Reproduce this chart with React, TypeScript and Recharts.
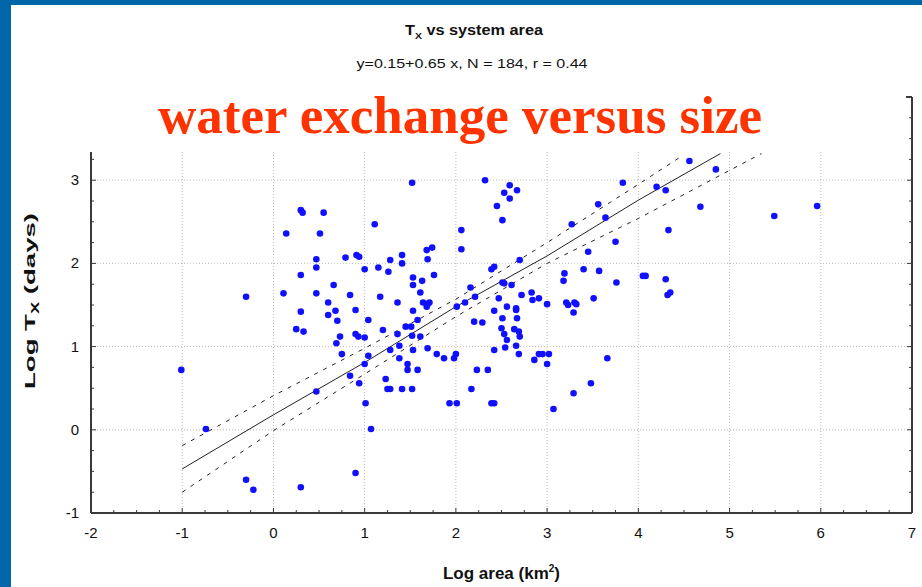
import { ScatterChart, Scatter, XAxis, YAxis, ReferenceLine } from 'recharts'

// log area (km2), log Tx (days) for each system
const systems: [number, number][] = [
  [-1.01, 0.72], [-0.74, 0.01], [-0.3, -0.6], [-0.22, -0.72], [-0.3, 1.6], [0.3, -0.69],
  [0.3, 2.64], [0.32, 2.61], [0.55, 2.61], [0.14, 2.36], [0.51, 2.36], [0.47, 2.05],
  [0.47, 1.95], [0.3, 1.86], [0.79, 2.07], [0.91, 2.1], [0.94, 2.08], [0.66, 1.74],
  [0.11, 1.64], [0.47, 1.64], [0.84, 1.62], [0.6, 1.53], [0.3, 1.42], [0.6, 1.38],
  [0.68, 1.43], [0.7, 1.31], [0.9, 1.44], [0.25, 1.21], [0.33, 1.18], [0.73, 1.12],
  [0.69, 1.04], [0.9, 1.15], [0.93, 1.12], [0.75, 0.91], [0.84, 0.65], [0.94, 0.56],
  [0.47, 0.46], [0.9, -0.52], [1.52, 2.97], [2.32, 3.0], [2.59, 2.94], [2.53, 2.85],
  [2.67, 2.88], [2.59, 2.78], [2.45, 2.69], [2.51, 2.52], [1.11, 2.47], [2.06, 2.4],
  [2.06, 2.17], [1.0, 1.93], [1.15, 1.95], [1.28, 2.04], [1.41, 2.1], [1.41, 2.0],
  [1.26, 1.9], [1.68, 2.16], [1.74, 2.19], [1.69, 2.05], [1.53, 1.83], [1.53, 1.74],
  [1.63, 1.79], [1.76, 1.86], [1.61, 1.65], [1.17, 1.6], [1.36, 1.53], [1.64, 1.53],
  [1.69, 1.51], [1.68, 1.48], [1.71, 1.53], [1.53, 1.43], [1.58, 1.32], [1.04, 1.32],
  [1.45, 1.24], [1.51, 1.24], [1.2, 1.2], [2.16, 1.71], [2.39, 1.93], [2.42, 1.96],
  [2.7, 2.04], [2.51, 1.77], [2.61, 1.74], [2.47, 1.58], [2.72, 1.62], [2.83, 1.65],
  [2.84, 1.56], [2.91, 1.58], [3.0, 1.51], [2.21, 1.6], [2.1, 1.53], [2.01, 1.48],
  [2.56, 1.48], [2.66, 1.46], [2.66, 1.44], [2.42, 1.43], [2.51, 1.34], [2.67, 1.34],
  [2.2, 1.3], [2.29, 1.29], [2.5, 1.22], [2.64, 1.21], [1.0, 1.11], [1.36, 1.15],
  [1.52, 1.13], [1.61, 1.12], [1.38, 1.01], [1.28, 0.96], [1.53, 0.96], [1.69, 0.98],
  [1.79, 0.91], [1.87, 0.86], [1.98, 0.86], [2.0, 0.91], [1.04, 0.89], [1.0, 0.79],
  [1.38, 0.86], [1.47, 0.79], [1.47, 0.72], [1.58, 0.72], [1.23, 0.61], [1.25, 0.49],
  [1.28, 0.49], [1.41, 0.49], [1.52, 0.49], [1.01, 0.32], [1.07, 0.01], [1.93, 0.32],
  [2.01, 0.32], [2.17, 0.49], [2.23, 0.72], [2.35, 0.72], [2.39, 0.32], [2.42, 0.32],
  [2.42, 0.96], [2.53, 1.15], [2.56, 1.08], [2.69, 1.18], [2.7, 1.12], [2.54, 0.99],
  [2.66, 1.01], [2.69, 0.91], [2.86, 0.84], [2.91, 0.91], [2.95, 0.91], [3.0, 0.79],
  [3.02, 0.91], [3.66, 0.86], [3.48, 0.56], [3.29, 0.44], [3.07, 0.25], [4.56, 3.23],
  [4.85, 3.13], [3.83, 2.97], [4.2, 2.92], [4.3, 2.88], [3.56, 2.71], [3.64, 2.55],
  [3.27, 2.47], [4.68, 2.68], [5.49, 2.57], [5.96, 2.69], [4.33, 2.4], [3.75, 2.26],
  [3.45, 2.14], [3.4, 1.93], [3.19, 1.88], [3.18, 1.79], [3.57, 1.91], [3.76, 1.77],
  [4.05, 1.85], [4.08, 1.85], [4.3, 1.81], [4.32, 1.62], [4.35, 1.65], [3.51, 1.58],
  [3.21, 1.53], [3.23, 1.5], [3.3, 1.53], [3.32, 1.51], [3.29, 1.41], [2.53, 1.76],
]

// regression line and its confidence band
const fitLine: [number, number][] = [[-1, -0.47], [0, 0.18], [1, 0.81], [2, 1.48], [3, 2.09], [4, 2.76], [4.9, 3.32]]
const upperBand: [number, number][] = [[-1, -0.19], [0, 0.41], [1, 0.98], [2, 1.57], [3, 2.25], [4, 2.95], [4.49, 3.3]]
const lowerBand: [number, number][] = [[-1, -0.75], [0, -0.01], [1, 0.67], [2, 1.36], [3, 2.0], [4, 2.54], [5.35, 3.32]]

const xMajor = [-2, -1, 0, 1, 2, 3, 4, 5, 6, 7]
const yMajor = [-1, 0, 1, 2, 3, 4]

const quarters = (majors: number[]) => {
  const out: number[] = []
  for (let i = 0; i < majors.length - 1; i++) {
    for (let k = 0; k < 4; k++) out.push(majors[i] + k * 0.25)
  }
  out.push(majors[majors.length - 1])
  return out
}
const xTicks = quarters(xMajor)
const yTicks = quarters(yMajor)

const toPts = (arr: [number, number][]) => arr.map(([x, y]) => ({ x, y }))

const FONT = '"Liberation Sans", Arial, sans-serif'
const AXIS = '#3a3a3a'
const GRID = '#bdbdbd'

function XTick({ x, y, payload }: any) {
  const v = payload.value
  const major = Number.isInteger(v)
  return (
    <g>
      <line x1={x} x2={x} y1={y} y2={y - (major ? 5 : 3)} stroke={AXIS} />
      {major && (
        <text x={x} y={y + 25} textAnchor="middle" fontFamily={FONT} fontSize={15} fill="#111">
          {v}
        </text>
      )}
    </g>
  )
}

function YTick({ x, y, payload }: any) {
  const v = payload.value
  const major = Number.isInteger(v)
  return (
    <g>
      <line x1={x} x2={x + (major ? 5 : 3)} y1={y} y2={y} stroke={AXIS} />
      {major && (
        <text x={x - 12} y={y + 5} textAnchor="end" fontFamily={FONT} fontSize={15} fill="#111">
          {v}
        </text>
      )}
    </g>
  )
}

const noDot = () => <g />
const dot = ({ cx, cy }: any) => <circle cx={cx} cy={cy} r={3.3} fill="#1010ff" />

export default function App() {
  return (
    <div style={{ position: 'absolute', left: 0, top: 0, width: 922, height: 587, background: '#fff', overflow: 'hidden' }}>
      <ScatterChart width={922} height={587} margin={{ top: 97, right: 10, bottom: 0, left: 0 }}>
        <XAxis
          type="number"
          dataKey="x"
          domain={[-2, 7]}
          ticks={xTicks}
          interval={0}
          height={74}
          tickSize={0}
          tickMargin={0}
          tickLine={false}
          tick={<XTick />}
          axisLine={{ stroke: AXIS, strokeWidth: 2 }}
          label={{
            content: ({ viewBox }: any) => (
              <text
                x={viewBox.x + viewBox.width / 2}
                y={viewBox.y + 66}
                textAnchor="middle"
                fontFamily={FONT}
                fontWeight="bold"
                fontSize={17}
                fill="#111"
              >
                Log area (km<tspan dy={-7} fontSize={10}>2</tspan>
                <tspan dy={7}>)</tspan>
              </text>
            ),
          }}
        />
        <YAxis
          type="number"
          dataKey="y"
          domain={[-1, 4]}
          ticks={yTicks}
          interval={0}
          width={91}
          tickSize={0}
          tickMargin={0}
          tickLine={false}
          tick={<YTick />}
          axisLine={{ stroke: AXIS, strokeWidth: 2 }}
          label={{
            content: ({ viewBox }: any) => {
              const cx = 35
              const cy = viewBox.y + viewBox.height / 2 - 4
              return (
                <text
                  x={cx}
                  y={cy}
                  transform={`rotate(-90 ${cx} ${cy})`}
                  textAnchor="middle"
                  fontFamily={FONT}
                  fontWeight="bold"
                  fontSize={15}
                  fill="#111"
                  textLength={176}
                  lengthAdjust="spacingAndGlyphs"
                >
                  Log T<tspan dy={4} fontSize={10}>X</tspan>
                  <tspan dy={-4}> (days)</tspan>
                </text>
              )
            },
          }}
        />
        {xMajor.slice(1, -1).map((v) => (
          <ReferenceLine key={'gx' + v} x={v} stroke={GRID} strokeDasharray="1 2" />
        ))}
        {yMajor.slice(1, -1).map((v) => (
          <ReferenceLine key={'gy' + v} y={v} stroke={GRID} strokeDasharray="1 2" />
        ))}
        <ReferenceLine x={7} stroke={AXIS} strokeWidth={2} />
        <ReferenceLine y={4} stroke={AXIS} strokeWidth={2} />
        {yTicks.map((v) => (
          <ReferenceLine
            key={'ry' + v}
            segment={[{ x: 7, y: v }, { x: Number.isInteger(v) ? 6.945 : 6.967, y: v }]}
            stroke={AXIS}
          />
        ))}
        <Scatter data={toPts(upperBand)} line={{ stroke: '#222', strokeWidth: 1, strokeDasharray: '4 6' }} shape={noDot} isAnimationActive={false} />
        <Scatter data={toPts(lowerBand)} line={{ stroke: '#222', strokeWidth: 1, strokeDasharray: '4 6' }} shape={noDot} isAnimationActive={false} />
        <Scatter data={toPts(fitLine)} line={{ stroke: '#222', strokeWidth: 1 }} shape={noDot} isAnimationActive={false} />
        <Scatter data={toPts(systems)} shape={dot} isAnimationActive={false} />
      </ScatterChart>
      <svg width={922} height={587} style={{ position: 'absolute', left: 0, top: 0, pointerEvents: 'none' }}>
        <rect x={14} y={80} width={892} height={72} fill="#fff" />
        <text x={474} y={35} textAnchor="middle" fontFamily={FONT} fontWeight="bold" fontSize={14} fill="#111" textLength={138} lengthAdjust="spacingAndGlyphs">
          T<tspan dy={4} fontSize={9}>X</tspan>
          <tspan dy={-4}> vs system area</tspan>
        </text>
        <text x={472} y={68} textAnchor="middle" fontFamily={FONT} fontSize={13} fill="#111" textLength={231} lengthAdjust="spacingAndGlyphs">
          y=0.15+0.65 x, N = 184, r = 0.44
        </text>
        <text x={460} y={133} textAnchor="middle" fontFamily='"Liberation Serif", "Times New Roman", serif' fontWeight="bold" fontSize={53} fill="#ff3300">
          water exchange versus size
        </text>
        <rect x={0} y={0} width={11} height={587} fill="#0066aa" />
        <rect x={0} y={0} width={922} height={5} fill="#0066aa" />
      </svg>
    </div>
  )
}
